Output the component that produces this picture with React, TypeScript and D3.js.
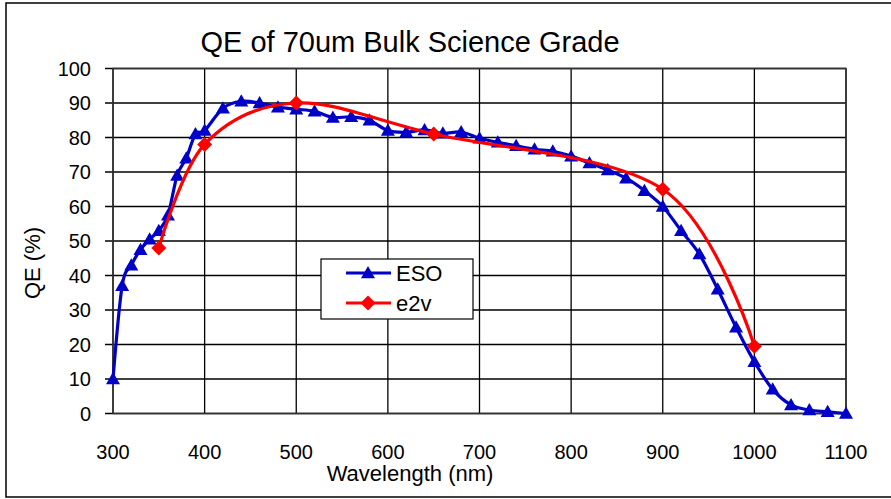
import React from "react";
import * as d3 from "d3";

const esoWavelength = [300, 310, 320, 330, 340, 350, 360, 370, 380, 390, 400, 420, 440, 460, 480, 500, 520, 540, 560, 580, 600, 620, 640, 660, 680, 700, 720, 740, 760, 780, 800, 820, 840, 860, 880, 900, 920, 940, 960, 980, 1000, 1020, 1040, 1060, 1080, 1100];
const esoQE = [10, 37, 43, 47.5, 50.5, 53, 57.5, 69, 74, 81, 82, 88.5, 90.5, 90, 88.8, 88.2, 87.6, 85.8, 86, 85, 82, 81.5, 82.2, 81.2, 81.6, 79.8, 78.6, 77.6, 76.6, 76, 74.6, 72.6, 70.6, 68.2, 64.6, 60, 53, 46.2, 36, 25, 15, 7, 2.5, 1, 0.5, 0];

const e2vWavelength = [350, 400, 500, 650, 900, 1000];
const e2vQE = [48, 78, 90, 81, 65, 19.5];

const xTicks = [300, 400, 500, 600, 700, 800, 900, 1000, 1100];
const yTicks = [0, 10, 20, 30, 40, 50, 60, 70, 80, 90, 100];

const titleText = "QE of 70um Bulk Science Grade";
const xTitle = "Wavelength (nm)";
const yTitle = "QE (%)";
const seriesNames = ["ESO", "e2v"];

const W = 891;
const H = 499;
const plot = { left: 113, right: 846, top: 68.5, bottom: 413.5 };
const BLUE = "#0000c8";
const RED = "#ff0000";
const FONT = "'Liberation Sans', Arial, sans-serif";

export default function App() {
  const x = d3.scaleLinear().domain([300, 1100]).range([plot.left, plot.right]);
  const y = d3.scaleLinear().domain([0, 100]).range([plot.bottom, plot.top]);

  const eso = esoWavelength.map((w, i) => [w, esoQE[i]] as [number, number]);
  const e2v = e2vWavelength.map((w, i) => [w, e2vQE[i]] as [number, number]);

  const line = d3
    .line<[number, number]>()
    .x((d) => x(d[0]))
    .y((d) => y(d[1]))
    .curve(d3.curveCardinal.tension(0));

  const tri = (cx: number, cy: number, s = 7) =>
    `M${cx},${cy - s}L${cx + s},${cy + s * 0.75}L${cx - s},${cy + s * 0.75}Z`;
  const dia = (cx: number, cy: number, s = 7.5) =>
    `M${cx},${cy - s}L${cx + s},${cy}L${cx},${cy + s}L${cx - s},${cy}Z`;

  const legend = { x: 321, y: 259, w: 152, h: 60 };

  return (
    <svg
      width={W}
      height={H}
      style={{ position: "absolute", left: 0, top: 0, background: "#fff" }}
      fontFamily={FONT}
    >
      <rect x={6} y={3} width={W} height={494} fill="#fff" stroke="#000" strokeWidth={1.5} />
      <text x={410} y={52} textAnchor="middle" fontSize={29} fill="#000">
        {titleText}
      </text>

      {/* grid */}
      {xTicks.map((t) => (
        <line key={"gx" + t} x1={x(t)} x2={x(t)} y1={plot.top} y2={plot.bottom} stroke="#000" strokeWidth={1.3} />
      ))}
      {yTicks.map((t) => (
        <line key={"gy" + t} x1={plot.left - 8} x2={plot.right} y1={y(t)} y2={y(t)} stroke="#000" strokeWidth={1.3} />
      ))}
      <rect
        x={plot.left}
        y={plot.top}
        width={plot.right - plot.left}
        height={plot.bottom - plot.top}
        fill="none"
        stroke="#333"
        strokeWidth={1.5}
      />

      {/* tick labels */}
      {yTicks.map((t) => (
        <text key={"ly" + t} x={91} y={y(t)} dy="0.36em" textAnchor="end" fontSize={20} fill="#000">
          {t}
        </text>
      ))}
      {xTicks.map((t) => (
        <text key={"lx" + t} x={x(t)} y={459} textAnchor="middle" fontSize={20} fill="#000">
          {t}
        </text>
      ))}
      <text x={410} y={481} textAnchor="middle" fontSize={22} fill="#000">
        {xTitle}
      </text>
      <text
        transform={`translate(40,263) rotate(-90)`}
        textAnchor="middle"
        fontSize={22}
        fill="#000"
      >
        {yTitle}
      </text>

      {/* ESO */}
      <path d={line(eso) || ""} fill="none" stroke={BLUE} strokeWidth={3.2} />
      {eso.map((d, i) => (
        <path key={"t" + i} d={tri(x(d[0]), y(d[1]))} fill={BLUE} />
      ))}

      {/* e2v */}
      <path d={line(e2v) || ""} fill="none" stroke={RED} strokeWidth={3.2} />
      {e2v.map((d, i) => (
        <path key={"d" + i} d={dia(x(d[0]), y(d[1]))} fill={RED} />
      ))}

      {/* legend */}
      <rect x={legend.x} y={legend.y} width={legend.w} height={legend.h} fill="#fff" stroke="#000" strokeWidth={1.2} />
      <line x1={346} x2={391} y1={273} y2={273} stroke={BLUE} strokeWidth={3.2} />
      <path d={tri(368, 273)} fill={BLUE} />
      <text x={396} y={273} dy="0.36em" fontSize={22} fill="#000">
        {seriesNames[0]}
      </text>
      <line x1={346} x2={391} y1={303} y2={303} stroke={RED} strokeWidth={3.2} />
      <path d={dia(368, 303)} fill={RED} />
      <text x={396} y={303} dy="0.36em" fontSize={22} fill="#000">
        {seriesNames[1]}
      </text>
    </svg>
  );
}
